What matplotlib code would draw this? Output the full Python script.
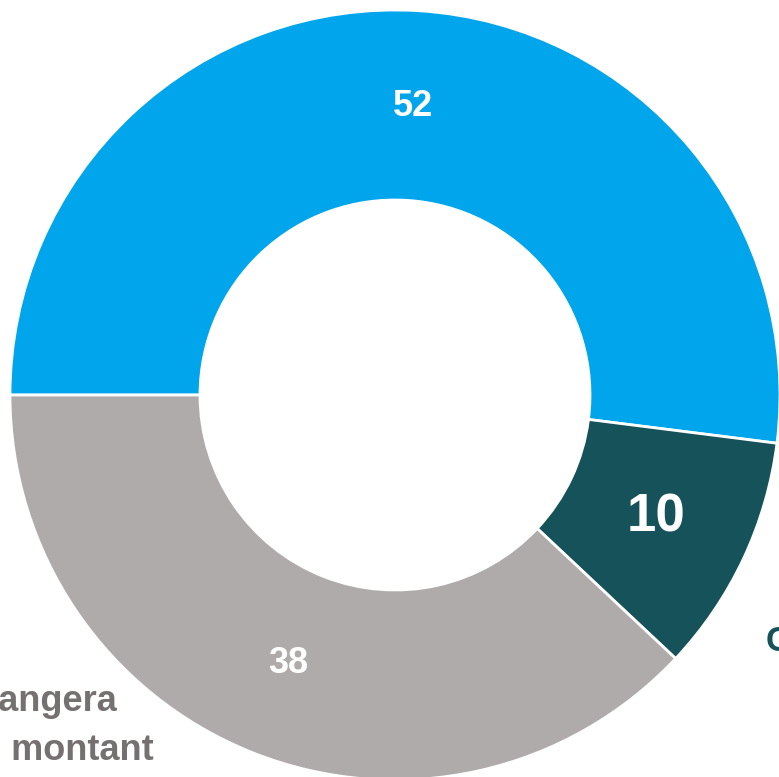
import matplotlib
matplotlib.use("Agg")
import matplotlib.pyplot as plt

plt.rcParams['font.family'] = ['Liberation Sans', 'DejaVu Sans']

values = [52, 10, 38]
value_labels = ["52", "10", "38"]
colors = ["#00A5EC", "#16525A", "#AFABAA"]
value_sizes = [26, 38, 26]
gray_label_lines = ["Ne changera", "pas le montant"]
teal_label = "Changera le montant"

W, H = 779, 777
fig = plt.figure(figsize=(W / 100, H / 100), dpi=100)
ax = fig.add_axes([0, 0, 1, 1])

wedges, texts = ax.pie(
    values, colors=colors, startangle=180, counterclock=False,
    radius=385, center=(0, 0), labels=value_labels, labeldistance=0.75,
    wedgeprops=dict(width=190, edgecolor='white', linewidth=2),
    frame=True,
)
for t, s in zip(texts, value_sizes):
    t.set_color('white')
    t.set_fontweight('bold')
    t.set_fontsize(s)
    t.set_ha('center')
    t.set_va('center')

ax.set_xlim(-395, W - 395)
ax.set_ylim(-(H - 395), 395)
ax.set_aspect('equal')
ax.axis('off')

# gray category label (two lines, cut by the left edge as in the reference)
for line, (xr, yb) in zip(gray_label_lines, [(117, 711), (154, 760)]):
    ax.text(xr - 395, 395 - yb, line, ha='right', va='baseline',
            fontsize=26, fontweight='bold', color='#767171')
ax.text(766 - 395, 395 - 651, teal_label, ha='left', va='baseline',
        fontsize=25, fontweight='bold', color='#16525A')

fig.savefig("out.png", dpi=100)
